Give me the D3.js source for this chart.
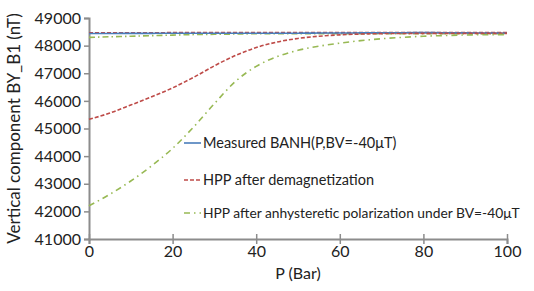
<!DOCTYPE html>
<html>
<head>
<meta charset="utf-8">
<script src="https://cdn.jsdelivr.net/npm/d3@7"></script>
<style>
  body { margin: 0; background: #fff; }
  text { font-family: Lato, "Open Sans", sans-serif; fill: #222; }
</style>
</head>
<body>
<div id="chart"></div>
<script>
// values
var pressure = [0, 5, 10, 15, 20, 25, 30, 35, 40, 45, 50, 55, 60, 65, 70, 75, 80, 85, 90, 95, 100];
var measured = [48440, 48440, 48445, 48445, 48450, 48450, 48450, 48450, 48450, 48450, 48450, 48455, 48455, 48460, 48460, 48465, 48470, 48465, 48460, 48455, 48450];
var demag = [45330, 45560, 45850, 46150, 46470, 46850, 47270, 47640, 47930, 48130, 48260, 48340, 48390, 48420, 48435, 48440, 48443, 48445, 48445, 48445, 48445];
var anhyst = [42200, 42620, 43100, 43650, 44280, 45050, 45900, 46700, 47250, 47600, 47830, 47980, 48090, 48180, 48250, 48300, 48340, 48365, 48385, 48395, 48400];
var demagTop = [48460, 48460, 48465, 48465, 48470, 48470, 48470, 48470, 48470, 48470, 48470, 48470, 48470, 48470, 48470, 48470, 48470, 48470, 48470, 48470, 48470];
var anhystTop = [48300, 48320, 48340, 48360, 48380, 48400, 48410, 48420, 48430, 48430, 48430, 48430, 48430, 48430, 48430, 48430, 48430, 48430, 48430, 48430, 48430];
var yTicks = [41000, 42000, 43000, 44000, 45000, 46000, 47000, 48000, 49000];
var xTicks = [0, 20, 40, 60, 80, 100];
var legendLabels = ["Measured BANH(P,BV=-40\u03bcT)", "HPP after demagnetization", "HPP after anhysteretic polarization under BV=-40\u03bcT"];

var svgWidth = 534;
var svgHeight = 291;
var margin = { top: 18, right: 27, bottom: 52, left: 89 };
var width = svgWidth - margin.left - margin.right;
var height = svgHeight - margin.top - margin.bottom;

var svg = d3.select("#chart")
  .append("svg")
  .attr("width", svgWidth)
  .attr("height", svgHeight);

var chart = svg.append("g")
  .attr("transform", "translate(" + margin.left + "," + margin.top + ")");

var x = d3.scaleLinear().domain([0, 100]).range([0, width]);
var y = d3.scaleLinear().domain([41000, 49000]).range([height, 0]);

var blue = "#4a7ebb", red = "#be4b48", green = "#98b954";

// axes
var leftAxis = d3.axisLeft(y).tickValues(yTicks).tickSize(5).tickPadding(3).tickFormat(d3.format("d"));
var bottomAxis = d3.axisBottom(x).tickValues(xTicks).tickSize(5).tickPadding(2);

var gy = chart.append("g").call(leftAxis);
var gx = chart.append("g").attr("transform", "translate(0," + height + ")").call(bottomAxis);

[gx, gy].forEach(function(g) {
  g.select(".domain").attr("stroke", "#8c8c8c").attr("stroke-width", 2);
  g.selectAll(".tick line").attr("stroke", "#8c8c8c").attr("stroke-width", 1.5);
  g.selectAll(".tick text").attr("font-size", 16).attr("fill", "#222")
    .attr("font-family", "Lato, 'Open Sans', sans-serif");
});
gx.selectAll(".tick line").attr("y1", -5).attr("y2", 5);
gy.selectAll(".tick line").attr("x1", -5).attr("x2", 0);

// lines
var line = function(vals) {
  return d3.line()
    .x(function(d, i) { return x(pressure[i]); })
    .y(function(d) { return y(d); })
    .curve(d3.curveMonotoneX)(vals);
};

var series = [
  { vals: anhystTop, color: green, dash: "6,3,1.5,3" },
  { vals: demagTop, color: red, dash: "4,2" },
  { vals: measured, color: blue, dash: null },
  { vals: demag, color: red, dash: "4,2" },
  { vals: anhyst, color: green, dash: "6,4,1.5,4" }
];

series.forEach(function(s) {
  chart.append("path")
    .attr("d", line(s.vals))
    .attr("fill", "none")
    .attr("stroke", s.color)
    .attr("stroke-width", 1.6)
    .attr("stroke-dasharray", s.dash);
});

// legend
var legend = [
  { label: legendLabels[0], color: blue, dash: null, y: 143, size: 14.5 },
  { label: legendLabels[1], color: red, dash: "4,2", y: 180, size: 14.5 },
  { label: legendLabels[2], color: green, dash: "6,4,1.5,4", y: 213, size: 13.8 }
];
legend.forEach(function(l) {
  svg.append("line")
    .attr("x1", 184).attr("x2", 201)
    .attr("y1", l.y).attr("y2", l.y)
    .attr("stroke", l.color)
    .attr("stroke-width", 1.6)
    .attr("stroke-dasharray", l.dash);
  svg.append("text")
    .attr("x", 203).attr("y", l.y + 5)
    .attr("font-size", l.size)
    .text(l.label);
});

// axis labels
svg.append("text")
  .attr("transform", "translate(20," + (margin.top + height / 2) + ") rotate(-90)")
  .attr("text-anchor", "middle")
  .attr("font-size", 17)
  .text("Vertical component BY_B1 (nT)");

svg.append("text")
  .attr("x", margin.left + width / 2)
  .attr("y", 279)
  .attr("text-anchor", "middle")
  .attr("font-size", 16)
  .text("P (Bar)");
</script>
</body>
</html>
